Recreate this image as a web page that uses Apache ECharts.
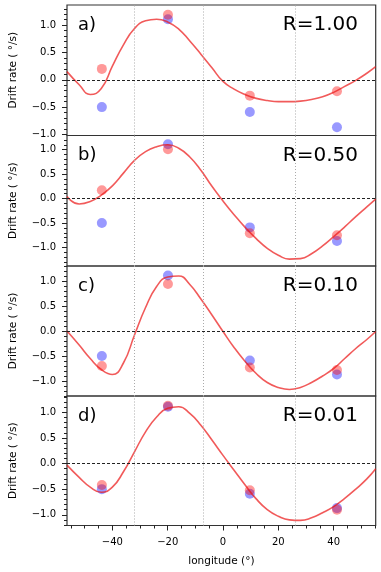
<!DOCTYPE html>
<html>
<head>
<meta charset="utf-8">
<script src="https://cdn.jsdelivr.net/npm/echarts@6/dist/echarts.min.js"></script>
<style>
html, body { margin: 0; padding: 0; background: #fff; }
#main { width: 381px; height: 572px; }
</style>
</head>
<body>
<div id="main"></div>
<script>
// observed longitudes of the measured points
var longitudes = [-43.8, -19.9, 9.7, 41.2]
// blue points (same in every panel)
var blueRates = [-0.50, 1.11, -0.59, -0.87]
// red points per panel
var redA = [0.20, 1.19, -0.29, -0.21]
var redB = [0.17, 1.01, -0.71, -0.75]
var redC = [-0.70, 0.94, -0.73, -0.78]
var redD = [-0.42, 1.13, -0.52, -0.90]

// fitted curve
var curveLon = [-56.4, -52, -48, -44, -40, -36, -32, -28, -24, -20, -16, -12, -8, -4, 0,
  4, 8, 12, 16, 20, 24, 28, 32, 36, 40, 44, 48, 52, 55.2]
var curveA = [0.15, -0.09, -0.27, -0.16, 0.25, 0.64, 0.94, 1.08, 1.11, 1.06, 0.93, 0.71, 0.47, 0.22, -0.03,
  -0.17, -0.27, -0.34, -0.38, -0.40, -0.40, -0.39, -0.36, -0.31, -0.23, -0.12, -0.01, 0.12, 0.24]
var curveB = [0.04, -0.11, -0.06, 0.07, 0.26, 0.52, 0.78, 0.96, 1.06, 1.10, 1.03, 0.85, 0.58, 0.25, -0.05,
  -0.33, -0.59, -0.82, -1.02, -1.16, -1.24, -1.23, -1.13, -0.97, -0.78, -0.58, -0.37, -0.17, -0.01]
var curveC = [0.0, -0.28, -0.55, -0.77, -0.87, -0.64, -0.08, 0.47, 0.89, 1.08, 1.10, 0.93, 0.64, 0.32, -0.01,
  -0.33, -0.61, -0.85, -1.03, -1.13, -1.17, -1.13, -1.03, -0.90, -0.75, -0.55, -0.35, -0.17, -0.01]
var curveD = [-0.03, -0.27, -0.46, -0.56, -0.46, -0.16, 0.23, 0.62, 0.91, 1.08, 1.11, 0.98, 0.75, 0.46, 0.16,
  -0.13, -0.42, -0.69, -0.90, -1.03, -1.10, -1.11, -1.06, -0.96, -0.84, -0.68, -0.50, -0.30, -0.10]

var panelLabels = ['a)', 'b)', 'c)', 'd)']
var rLabels = ['R=1.00', 'R=0.50', 'R=0.10', 'R=0.01']
var yLimits = [[-1.02, 1.37], [-1.38, 1.29], [-1.30, 1.30], [-1.21, 1.32]]
var xLimits = [-56.4, 55.2]
var vLines = [-32, -7, 26]
var yMajor = [-1, -0.5, 0, 0.5, 1]
var xMajor = [-40, -20, 0, 20, 40]

var redSets = [redA, redB, redC, redD]
var curves = [curveA, curveB, curveC, curveD]

var chartDom = document.getElementById('main')
var myChart = echarts.init(chartDom)
var font = 'DejaVu Sans'

var tops = [5, 135.5, 266, 396]
var heights = [130.5, 130.5, 130, 129.5]

function pairs (xs, ys) {
  return xs.map(function (x, i) { return [x, ys[i]] })
}
function minus (s) { return String(s).replace('-', '\u2212') }
function range (lo, hi, step) {
  var out = []
  for (var v = Math.ceil(lo / step) * step; v <= hi + 1e-9; v += step) out.push(Math.round(v * 100) / 100)
  return out
}

var grids = []
var xAxes = []
var yAxes = []
var series = []
var graphics = []
var noLine = { show: false, onZero: false }

for (var p = 0; p < 4; p++) {
  grids.push({ left: 65.3, right: 5.3, top: tops[p], height: heights[p], show: true, borderColor: '#333', borderWidth: 1.2 })
  var last = p === 3
  var xMinor = range(xLimits[0], xLimits[1], 5)
  xAxes.push({
    type: 'value', gridIndex: p, min: xLimits[0], max: xLimits[1], position: 'bottom',
    axisLine: noLine,
    splitLine: { show: false },
    axisTick: { show: last, customValues: xMajor, length: 5, lineStyle: { color: '#222' } },
    axisLabel: { show: last, customValues: xMajor, margin: 12, fontFamily: font, fontSize: 10, color: '#000', formatter: minus },
    name: last ? 'longitude (\u00b0)' : '',
    nameLocation: 'middle', nameGap: 30,
    nameTextStyle: { fontFamily: font, fontSize: 10.5, color: '#000' }
  })
  xAxes.push({
    type: 'value', gridIndex: p, min: xLimits[0], max: xLimits[1], position: 'bottom', offset: 0,
    axisLine: noLine, splitLine: { show: false }, axisLabel: { show: false },
    axisTick: { show: last, customValues: xMinor, length: 3, lineStyle: { color: '#222' } }
  })
  var yl = yLimits[p]
  yAxes.push({
    type: 'value', gridIndex: p, min: yl[0], max: yl[1], position: 'left',
    axisLine: noLine,
    splitLine: { show: false },
    axisTick: { show: true, customValues: yMajor, length: 5, lineStyle: { color: '#222' } },
    axisLabel: { customValues: yMajor, margin: 11, fontFamily: font, fontSize: 10, color: '#000',
      formatter: function (v) { return minus(v.toFixed(1)) } },
    name: 'Drift rate ( \u00b0/s)', nameLocation: 'middle', nameGap: 48,
    nameTextStyle: { fontFamily: font, fontSize: 10.5, color: '#000' }
  })
  yAxes.push({
    type: 'value', gridIndex: p, min: yl[0], max: yl[1], position: 'left', offset: 0,
    axisLine: noLine, splitLine: { show: false }, axisLabel: { show: false },
    axisTick: { show: true, customValues: range(yl[0], yl[1], 0.1), length: 3, lineStyle: { color: '#222' } }
  })

  series.push({
    type: 'line', xAxisIndex: 2 * p, yAxisIndex: 2 * p,
    data: pairs(curveLon, curves[p]), smooth: 0.5, showSymbol: false,
    lineStyle: { color: 'rgba(235,20,20,0.7)', width: 1.6 },
    silent: true,
    markLine: {
      silent: true, symbol: ['none', 'none'], label: { show: false },
      data: vLines.map(function (v) {
        return { xAxis: v, lineStyle: { color: '#aaa', width: 1, type: [1, 2] } }
      }).concat([{ yAxis: 0, lineStyle: { color: '#222', width: 1, type: [3, 2] } }])
    }
  })
  series.push({
    type: 'scatter', xAxisIndex: 2 * p, yAxisIndex: 2 * p,
    data: pairs(longitudes, blueRates), symbolSize: 10,
    itemStyle: { color: 'rgba(0,0,255,0.5)' }
  })
  series.push({
    type: 'scatter', xAxisIndex: 2 * p, yAxisIndex: 2 * p,
    data: pairs(longitudes, redSets[p]), symbolSize: 10,
    itemStyle: { color: 'rgba(255,0,0,0.5)' }
  })

  graphics.push({
    type: 'text', left: 78, top: tops[p] + 11,
    style: { text: panelLabels[p], fontFamily: font, fontSize: 18, fill: '#000' }
  })
  graphics.push({
    type: 'text', right: 23, top: tops[p] + 10,
    style: { text: rLabels[p], fontFamily: font, fontSize: 20, fill: '#000' }
  })
}

var option = {
  animation: false,
  grid: grids,
  xAxis: xAxes,
  yAxis: yAxes,
  series: series,
  graphic: graphics
}
myChart.setOption(option)
</script>
</body>
</html>
